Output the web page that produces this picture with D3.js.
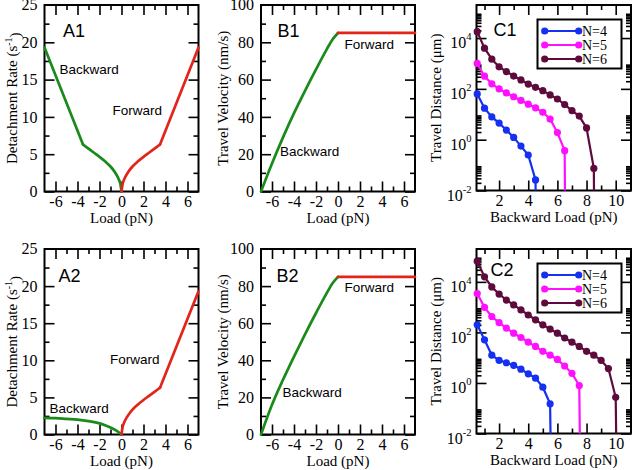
<!DOCTYPE html>
<html><head><meta charset="utf-8">
<script src="https://cdn.jsdelivr.net/npm/d3@7"></script>
<style>
body{margin:0;background:#fff}
svg{display:block}
</style></head><body>
<svg id="c" width="633" height="470"></svg>
<script>
// ---------------- DATA ----------------
// Panels A: detachment rate (s^-1) vs load (pN)
const fwdCurveLoad = [0, 0.1, 0.25, 0.5, 0.75, 1, 1.5, 2, 2.5, 3, 3.5];
const fwdCurveRate = [0, 1.0, 1.65, 2.35, 2.9, 3.35, 4.05, 4.65, 5.2, 5.75, 6.3];
const fwdLinLoad = [3.5, 7];
const fwdLinRate = [6.3, 19.3];
const backA1CurveLoad = [-3.5, -3, -2.5, -2, -1.5, -1, -0.75, -0.5, -0.25, -0.1, 0];
const backA1CurveRate = [6.3, 5.75, 5.2, 4.65, 4.05, 3.35, 2.9, 2.35, 1.65, 1.0, 0];
const backA1LinLoad = [-7, -3.5];
const backA1LinRate = [19.3, 6.3];
const backA2Load = [-7, -6, -5, -4, -3, -2, -1.5, -1, -0.5, -0.25, 0];
const backA2Rate = [2.25, 2.2, 2.1, 2.0, 1.8, 1.5, 1.25, 0.95, 0.55, 0.3, 0];

// Panels B: travel velocity (nm/s) vs load (pN)
const backBLoad = [-7, -6, -5, -4, -3, -2, -1, -0.5, 0];
const backB1Vel = [0, 15, 29, 42, 54, 65.5, 76.5, 81.5, 85];
const backB2Vel = [0, 16, 29.5, 42, 54, 65.5, 76.5, 81.5, 85];
const fwdBLoad = [0, 7];
const fwdBVel = [85, 85];

// Panels C: travel distance (um) vs backward load (pN)
const seriesNames = ["N=4", "N=5", "N=6"];
const c1N4Load = [0.5, 1, 1.5, 2, 2.5, 3, 3.5, 4, 4.5, 4.55];
const c1N4Dist = [63, 17.4, 7.9, 4.5, 2.4, 1.23, 0.56, 0.25, 0.026, 1e-5];
const c1N5Load = [0.5, 1, 1.5, 2, 2.5, 3, 3.5, 4, 4.5, 5, 5.5, 6, 6.5, 6.55];
const c1N5Dist = [1000, 316, 158, 100, 69, 49, 35, 25, 18, 12, 6.5, 1.9, 0.37, 1e-5];
const c1N6Load = [0.5, 1, 1.5, 2, 2.5, 3, 3.5, 4, 4.5, 5, 5.5, 6, 6.5, 7, 7.5, 8, 8.5, 8.55];
const c1N6Dist = [17800, 4000, 1480, 740, 480, 320, 224, 155, 115, 85, 58, 40, 24, 14, 8.5, 2.9, 0.074, 1e-5];
const c2N4Load = [0.5, 1, 1.5, 2, 2.5, 3, 3.5, 4, 4.5, 5, 5.5, 5.6];
const c2N4Dist = [200, 51, 12.6, 7.9, 6.3, 5.0, 3.5, 2.3, 1.55, 0.68, 0.15, 1e-5];
const c2N5Load = [0.5, 1, 1.5, 2, 2.5, 3, 3.5, 4, 4.5, 5, 5.5, 6, 6.5, 7, 7.5, 7.6];
const c2N5Dist = [3470, 980, 427, 245, 148, 93, 63, 41, 28, 17.8, 12.6, 8.5, 4.7, 2.4, 0.79, 1e-5];
const c2N6Load = [0.5, 1, 1.5, 2, 2.5, 3, 3.5, 4, 4.5, 5, 5.5, 6, 6.5, 7, 7.5, 8, 8.5, 9, 9.5, 10, 10.1];
const c2N6Dist = [66000, 15800, 6300, 3300, 1900, 1230, 776, 490, 316, 200, 135, 93, 60, 41, 28, 17.8, 12.6, 7.9, 3.7, 0.27, 1e-5];

// tick values
const loadMajor = [-6, -4, -2, 0, 2, 4, 6];
const loadMinor = [-5, -3, -1, 1, 3, 5];
const rateMajor = [0, 5, 10, 15, 20];
const rateMinor = [2.5, 7.5, 12.5, 17.5, 22.5];
const velMajor = [0, 20, 40, 60, 80];
const velMinor = [10, 30, 50, 70, 90];
const bloadMajor = [2, 4, 6, 8, 10];
const bloadMinor = [1, 3, 5, 7, 9];
const distMajor = [1e-2, 1, 1e2, 1e4];
const distMinorMult = [2, 3, 4, 5, 6, 7, 8, 9];
const distMinorExp = [-2, 0, 2, 4];

// ---------------- STYLE ----------------
const SERIF = "'Liberation Serif','Times New Roman',serif";
const SANS = "'Liberation Sans',Arial,sans-serif";
const GREEN = "#1a8a1a", RED = "#e3241b";
const CCOL = ["#1530f0", "#ff10ff", "#5e0a3c"];
const COLS = {A: [44.5, 198.5], B: [261, 415], C: [476.5, 631]};
const ROWS = [[5, 191.5], [249, 434.5]];
const TICKFS = 16;

const svg = d3.select("#c");

function styleAxis(sel) {
  sel.select(".domain").remove();
  sel.selectAll(".tick line").attr("stroke", "#000").attr("stroke-width", 1.6);
  sel.selectAll(".tick text").attr("font-family", SERIF).attr("font-size", TICKFS).attr("fill", "#000");
}

function axes(x, y, o) {
  const [x0, x1] = x.range(), [yb, yt] = y.range();
  const g = svg.append("g");
  const fmt = d => String(d);
  g.append("g").attr("transform", `translate(0,${yb})`)
    .call(d3.axisBottom(x).tickValues(o.xMajor).tickSize(-10).tickPadding(4).tickFormat(fmt)).call(styleAxis);
  g.append("g").attr("transform", `translate(0,${yb})`)
    .call(d3.axisBottom(x).tickValues(o.xMinor).tickSize(-5).tickFormat("")).call(styleAxis);
  g.append("g").attr("transform", `translate(0,${yt})`)
    .call(d3.axisTop(x).tickValues(o.xMajor).tickSize(-10).tickFormat("")).call(styleAxis);
  g.append("g").attr("transform", `translate(0,${yt})`)
    .call(d3.axisTop(x).tickValues(o.xMinor).tickSize(-5).tickFormat("")).call(styleAxis);
  const left = g.append("g").attr("transform", `translate(${x0},0)`)
    .call(d3.axisLeft(y).tickValues(o.yMajor).tickSize(-10).tickPadding(o.yPad || 7).tickFormat(o.log ? (d => "10") : fmt)).call(styleAxis);
  g.append("g").attr("transform", `translate(${x0},0)`)
    .call(d3.axisLeft(y).tickValues(o.yMinor).tickSize(-5).tickFormat("")).call(styleAxis);
  g.append("g").attr("transform", `translate(${x1},0)`)
    .call(d3.axisRight(y).tickValues(o.yMajor).tickSize(-10).tickFormat("")).call(styleAxis);
  g.append("g").attr("transform", `translate(${x1},0)`)
    .call(d3.axisRight(y).tickValues(o.yMinor).tickSize(-5).tickFormat("")).call(styleAxis);
  if (o.log) {
    left.selectAll(".tick text").attr("dy", "0.6em").each(function (d) {
      d3.select(this).append("tspan").attr("dy", "-0.75em").attr("font-size", 10.5)
        .text(String(Math.round(Math.log10(d))));
    });
  }
  svg.append("rect").attr("x", x0).attr("y", yt).attr("width", x1 - x0).attr("height", yb - yt)
    .attr("fill", "none").attr("stroke", "#000").attr("stroke-width", 2);
}

function titles(x, y, xt, ytNodes, yx) {
  const [x0, x1] = x.range(), [yb, yt] = y.range();
  svg.append("text").attr("x", (x0 + x1) / 2).attr("y", yb + 31.5).attr("text-anchor", "middle")
    .attr("font-family", SERIF).attr("font-size", 15).text(xt);
  const t = svg.append("text").attr("transform", `translate(${yx},${(yb + yt) / 2}) rotate(-90)`)
    .attr("text-anchor", "middle").attr("font-family", SERIF).attr("font-size", 15);
  ytNodes(t);
}

function label(txt, x, y, size) {
  svg.append("text").attr("x", x).attr("y", y).attr("font-family", SANS)
    .attr("font-size", size).attr("fill", "#000").text(txt);
}

function curve(x, y, xs, ys, color, c) {
  const line = d3.line().x(d => x(d[0])).y(d => y(d[1])).curve(c || d3.curveMonotoneX);
  svg.append("path").datum(d3.zip(xs, ys)).attr("d", line).attr("fill", "none")
    .attr("stroke", color).attr("stroke-width", 2.7).attr("stroke-linecap", "round").attr("stroke-linejoin", "round");
}

function topLabel(x0, yv, txt) {
  svg.append("text").attr("x", x0 - 7).attr("y", yv).attr("dy", "0.32em").attr("text-anchor", "end")
    .attr("font-family", SERIF).attr("font-size", TICKFS).text(txt);
}

// ---------------- PANELS A ----------------
const rateTitle = t => { t.append("tspan").text("Detachment Rate (s"); t.append("tspan").attr("dy", "-0.5em").attr("font-size", 10).text("-1"); t.append("tspan").attr("dy", "0.5em").text(")"); };

ROWS.forEach((row, i) => {
  const x = d3.scaleLinear().domain([-7, 7]).range(COLS.A);
  const y = d3.scaleLinear().domain([0, 25]).range([row[1], row[0]]);
  axes(x, y, {xMajor: loadMajor, xMinor: loadMinor, yMajor: rateMajor, yMinor: rateMinor});
  titles(x, y, "Load (pN)", rateTitle, 17);
  topLabel(COLS.A[0], y(25), "25");
  if (i === 0) {
    curve(x, y, backA1LinLoad, backA1LinRate, GREEN, d3.curveLinear);
    curve(x, y, backA1CurveLoad, backA1CurveRate, GREEN);
    label("A1", 63, 37, 18); label("Backward", 59.5, 74, 13.5); label("Forward", 112.5, 115, 13.5);
  } else {
    curve(x, y, backA2Load, backA2Rate, GREEN);
    label("A2", 58.5, 282, 18); label("Backward", 49.5, 413, 13.5); label("Forward", 110, 364, 13.5);
  }
  curve(x, y, fwdCurveLoad, fwdCurveRate, RED);
  curve(x, y, fwdLinLoad, fwdLinRate, RED, d3.curveLinear);
});

// ---------------- PANELS B ----------------
ROWS.forEach((row, i) => {
  const x = d3.scaleLinear().domain([-7, 7]).range(COLS.B);
  const y = d3.scaleLinear().domain([0, 100]).range([row[1], row[0]]);
  axes(x, y, {xMajor: loadMajor, xMinor: loadMinor, yMajor: velMajor, yMinor: velMinor});
  topLabel(COLS.B[0], y(100), "100");
  titles(x, y, "Load (pN)", t => t.text("Travel Velocity (nm/s)"), 228);
  curve(x, y, backBLoad, i === 0 ? backB1Vel : backB2Vel, GREEN);
  curve(x, y, fwdBLoad, fwdBVel, RED, d3.curveLinear);
  if (i === 0) { label("B1", 277.5, 37, 18); label("Forward", 344.5, 49, 13.5); label("Backward", 280, 156, 13.5); }
  else { label("B2", 276.5, 282, 18); label("Forward", 344.5, 291.5, 13.5); label("Backward", 282.5, 396.5, 13.5); }
});

// ---------------- PANELS C ----------------
const cData = [
  [[c1N4Load, c1N4Dist], [c1N5Load, c1N5Dist], [c1N6Load, c1N6Dist]],
  [[c2N4Load, c2N4Dist], [c2N5Load, c2N5Dist], [c2N6Load, c2N6Dist]]
];
const distMinor = [];
distMinorExp.forEach(e => distMinorMult.forEach(m => distMinor.push(m * Math.pow(10, e))));

ROWS.forEach((row, i) => {
  const bottom = i === 0 ? 190.5 : 433.5;
  const x = d3.scaleLinear().domain([0.45, 11.05]).range(COLS.C);
  const y = d3.scaleLog().domain([1e-2, 2e5]).range([bottom, row[0]]);
  axes(x, y, {xMajor: bloadMajor, xMinor: bloadMinor, yMajor: distMajor, yMinor: distMinor, log: true, yPad: 5});
  titles(x, y, "Backward Load (pN)", t => { t.append("tspan").text("Travel Distance ("); t.append("tspan").text("\u03bcm)"); }, 441);
  const cid = "clipC" + i;
  svg.append("clipPath").attr("id", cid).append("rect")
    .attr("x", COLS.C[0] - 6).attr("y", row[0] - 6).attr("width", COLS.C[1] - COLS.C[0] + 6).attr("height", bottom - row[0] + 6);
  const pg = svg.append("g").attr("clip-path", `url(#${cid})`);
  cData[i].forEach((s, k) => {
    const pts = d3.zip(s[0], s[1]);
    const line = d3.line().x(d => x(d[0])).y(d => y(d[1]));
    pg.append("path").datum(pts).attr("d", line).attr("fill", "none").attr("stroke", CCOL[k]).attr("stroke-width", 2.2);
    pg.selectAll(null).data(pts.slice(0, -1)).enter().append("circle")
      .attr("cx", d => x(d[0])).attr("cy", d => y(d[1])).attr("r", 3.6).attr("fill", CCOL[k]);
  });
  label(i === 0 ? "C1" : "C2", i === 0 ? 493.5 : 490.5, i === 0 ? 36 : 276, 18);
  // legend
  const ly = row[0] + 14.5;
  svg.append("rect").attr("x", 537.5).attr("y", ly).attr("width", 84).attr("height", 49)
    .attr("fill", "#fff").attr("stroke", "#000").attr("stroke-width", 2);
  seriesNames.forEach((n, k) => {
    const yy = ly + 11.5 + k * 14;
    svg.append("line").attr("x1", 544.7).attr("x2", 578.7).attr("y1", yy).attr("y2", yy).attr("stroke", CCOL[k]).attr("stroke-width", 2.2);
    [544.7, 578.7].forEach(cx => svg.append("circle").attr("cx", cx).attr("cy", yy).attr("r", 3.6).attr("fill", CCOL[k]));
    svg.append("text").attr("x", 582).attr("y", yy).attr("dy", "0.35em").attr("font-family", SERIF).attr("font-size", 14).text(n);
  });
});
</script>
</body></html>
